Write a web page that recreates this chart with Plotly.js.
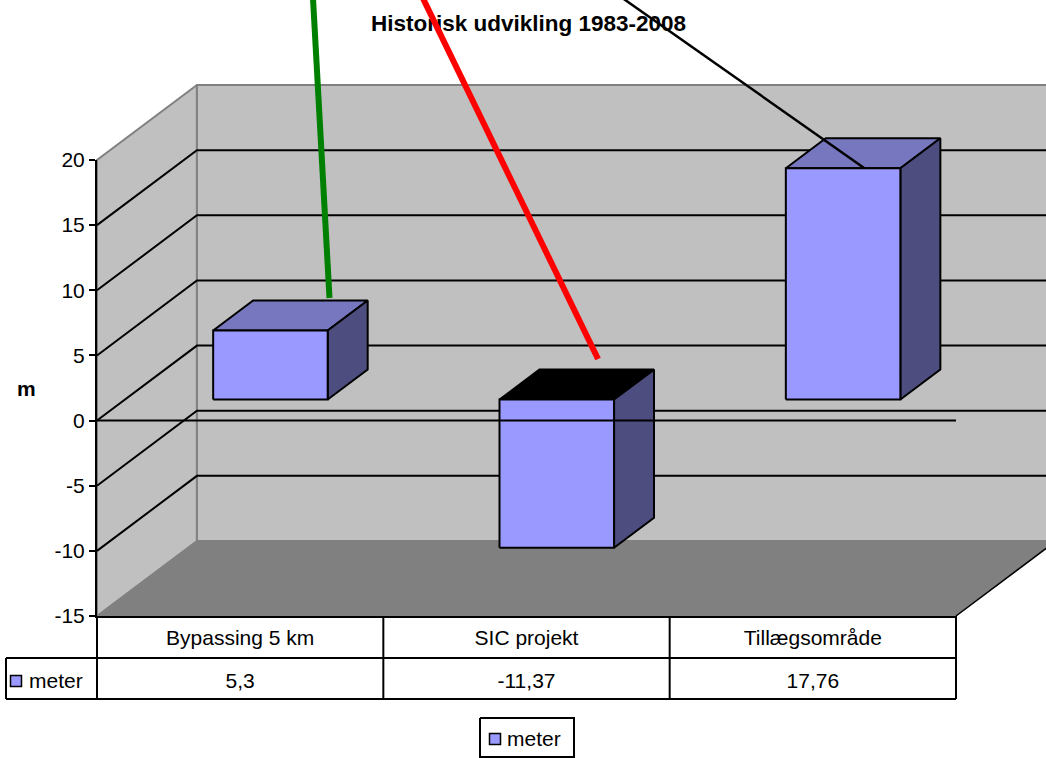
<!DOCTYPE html>
<html>
<head>
<meta charset="utf-8">
<script src="https://cdn.plot.ly/plotly-3.0.1.min.js"></script>
<style>html,body{margin:0;padding:0;background:#fff;overflow:hidden}</style>
</head>
<body>
<div id="chart" style="width:1046px;height:758px"></div>
<script>
// Data
const categories = ['Bypassing 5 km', 'SIC projekt', 'Tillægsområde'];
const seriesName = 'meter';
const values = [5.3, -11.37, 17.76];
const yTicks = [-15, -10, -5, 0, 5, 10, 15, 20];
const yTickText = ['-15', '-10', '-5', '0', '5', '10', '15', '20'];
const gridValues = [-10, -5, 0, 5, 10, 15];
const chartTitle = 'Historisk udvikling 1983-2008';
const yLabel = 'm';

// Hand-drawn strokes lying over the chart (axis units)
const greenX = [0.7544, 0.812], greenY = [32.4, 9.41];
const redX = [1.1386, 1.7498], redY = [32.4, 4.73];
const blackX = [1.837, 2.679], blackY = [32.4, 19.39];

// Oblique projection: depth 0..1 shifts a point in both axis units
const DX = 0.349, DY = 5.756;
const P = (cat, val, d) => [cat + d * DX, val + d * DY];
const poly = pts => ({ x: pts.map(p => p[0]).concat(pts[0][0]), y: pts.map(p => p[1]).concat(pts[0][1]) });
const pxY = 35 / 456, pxX = 3 / 859;
const FS = 21;
const txtFont = { family: 'Liberation Sans', size: FS, color: '#000' };

function face(pts, fill, line, width) {
  const g = poly(pts);
  return { x: g.x, y: g.y, mode: 'lines', fill: 'toself', fillcolor: fill,
    line: { color: line || '#000000', width: width === undefined ? 2 : width },
    showlegend: false, hoverinfo: 'skip' };
}
function strokes(segs, color, width) {
  const x = [], y = [];
  segs.forEach(s => { s.forEach(p => { x.push(p[0]); y.push(p[1]); }); x.push(null); y.push(null); });
  return { x, y, mode: 'lines', line: { color, width }, showlegend: false, hoverinfo: 'skip' };
}

const yMin = -15, yMax = 20, xEnd = 3;
const traces = [];

// Walls and floor
traces.push(face([P(0, yMin, 0), P(0, yMin, 1), P(0, yMax, 1), P(0, yMax, 0)], '#c0c0c0', '#808080', 2));
traces.push(face([P(0, yMin, 1), P(xEnd, yMin, 1), P(xEnd, yMax, 1), P(0, yMax, 1)], '#c0c0c0', '#808080', 2));
traces.push(face([P(0, yMin, 0), P(xEnd, yMin, 0), P(xEnd, yMin, 1), P(0, yMin, 1)], '#808080', '#808080', 1));
traces.push(strokes(gridValues.map(v => [P(0, v, 0), P(0, v, 1), P(xEnd, v, 1)]), '#000000', 2));
traces.push(strokes([[P(xEnd, yMin, 0), P(xEnd, yMin, 1)]], '#000000', 1.5));

// Bars
const bw = 0.2, d0 = 0.28, d1 = 0.68;
values.forEach((v, i) => {
  const c = i + 0.508, l = c - bw, r = c + bw;
  const top = Math.max(v, 0), bot = Math.min(v, 0);
  traces.push(face([P(l, top, d0), P(r, top, d0), P(r, top, d1), P(l, top, d1)], v < 0 ? '#000000' : '#7777bf'));
  traces.push(face([P(r, bot, d0), P(r, bot, d1), P(r, top, d1), P(r, top, d0)], '#4d4d7f'));
  traces.push(face([P(l, bot, d0), P(r, bot, d0), P(r, top, d0), P(l, top, d0)], '#9999ff'));
});

// Zero line on the front plane, over the bars
traces.push(strokes([[P(0, 0, 0), P(xEnd, 0, 0)]], '#000000', 2));

// Data table
const row1 = yMin - 42 * pxY, row2 = yMin - 83 * pxY, leftCell = -91 * pxX;
const tableSegs = [[[leftCell, row1], [xEnd, row1]], [[leftCell, row2], [xEnd, row2]], [[leftCell, row1], [leftCell, row2]]];
[0, 1, 2, 3].forEach(k => tableSegs.push([[k, yMin], [k, row2]]));
traces.push(strokes(tableSegs, '#000000', 2));
traces.push({ x: categories.map((c, i) => i + 0.5), y: values.map(() => yMin - 67 * pxY),
  text: values.map(v => String(v).replace('.', ',')), mode: 'text', textposition: 'middle center',
  textfont: txtFont, showlegend: false, hoverinfo: 'skip' });

// Series keys: in the table and in the boxed legend under it
function key(markPx, textPx, yPx) {
  return [
    { x: [(markPx - 97) * pxX], y: [yMax + (160 - yPx) * pxY], mode: 'markers',
      marker: { symbol: 'square', size: 11, color: '#9999ff', line: { color: '#000', width: 1.5 } },
      showlegend: false, hoverinfo: 'skip' },
    { x: [(textPx - 97) * pxX], y: [yMax + (160 - yPx - 2) * pxY], text: [seriesName], mode: 'text',
      textposition: 'middle right', textfont: txtFont, showlegend: false, hoverinfo: 'skip' }
  ];
}
traces.push(...key(16, 29, 681));
const lgL = (480 - 97) * pxX, lgR = (574 - 97) * pxX, lgT = yMax + (160 - 718) * pxY, lgB = yMax + (160 - 757) * pxY;
traces.push(strokes([[[lgL, lgT], [lgR, lgT], [lgR, lgB], [lgL, lgB], [lgL, lgT]]], '#000000', 2));
traces.push(...key(495, 507, 739));

// Title, below the overlaid strokes
traces.push({ x: [(528.5 - 97) * pxX], y: [yMax + 135 * pxY], text: [chartTitle], mode: 'text', textposition: 'middle center',
  textfont: { family: 'Liberation Sans', size: 22.5, color: '#000', weight: 700 }, showlegend: false, hoverinfo: 'skip' });

// Overlaid strokes
traces.push(strokes([greenX.map((x, i) => [x, greenY[i]])], '#008000', 6));
traces.push(strokes([redX.map((x, i) => [x, redY[i]])], '#ff0000', 6));
traces.push(strokes([blackX.map((x, i) => [x, blackY[i]])], '#000000', 2.5));

// Axis-bearing trace on the inner subplot
traces.push({ x: categories.map((c, i) => i + 0.5), y: values, xaxis: 'x2', yaxis: 'y2', mode: 'markers',
  marker: { opacity: 0 }, name: seriesName, showlegend: false, hoverinfo: 'skip' });

const layout = {
  width: 1046, height: 758,
  margin: { l: 0, r: 0, t: 0, b: 0, pad: 0, autoexpand: false },
  paper_bgcolor: '#ffffff', plot_bgcolor: 'rgba(0,0,0,0)',
  font: { family: 'Liberation Sans', size: FS, color: '#000' },
  hovermode: false, showlegend: false,
  // Full-page axes carrying the drawing, same scale as the inner axes
  xaxis: { domain: [0, 1], range: [-97 * pxX, (1046 - 97) * pxX], visible: false, fixedrange: true },
  yaxis: { domain: [0, 1], range: [yMin - 142 * pxY, yMax + 160 * pxY], visible: false, fixedrange: true },
  // Visible axes of the chart
  xaxis2: { domain: [97 / 1046, 956 / 1046], anchor: 'y2', range: [0, xEnd], tickvals: categories.map((c, i) => i + 0.5), ticktext: categories,
    ticks: 'outside', ticklen: 2, tickcolor: 'rgba(0,0,0,0)', showgrid: false, zeroline: false,
    showline: true, linecolor: '#000', linewidth: 2, tickfont: { size: FS }, fixedrange: true },
  yaxis2: { domain: [142 / 758, 598 / 758], anchor: 'x2', range: [yMin, yMax], tickvals: yTicks, ticktext: yTickText,
    ticks: 'outside', ticklen: 6, tickwidth: 2, tickcolor: '#000',
    showgrid: false, zeroline: false, showline: true, linecolor: '#000', linewidth: 2, tickfont: { size: FS }, fixedrange: true },
  annotations: [{ text: '<b>' + yLabel + '</b>', xref: 'paper', yref: 'paper', x: 26 / 1046, y: (758 - 388) / 758,
    showarrow: false, xanchor: 'center', yanchor: 'middle', font: { size: FS, color: '#000' } }]
};
Plotly.newPlot('chart', traces, layout, { displayModeBar: false, staticPlot: true });
</script>
</body>
</html>
